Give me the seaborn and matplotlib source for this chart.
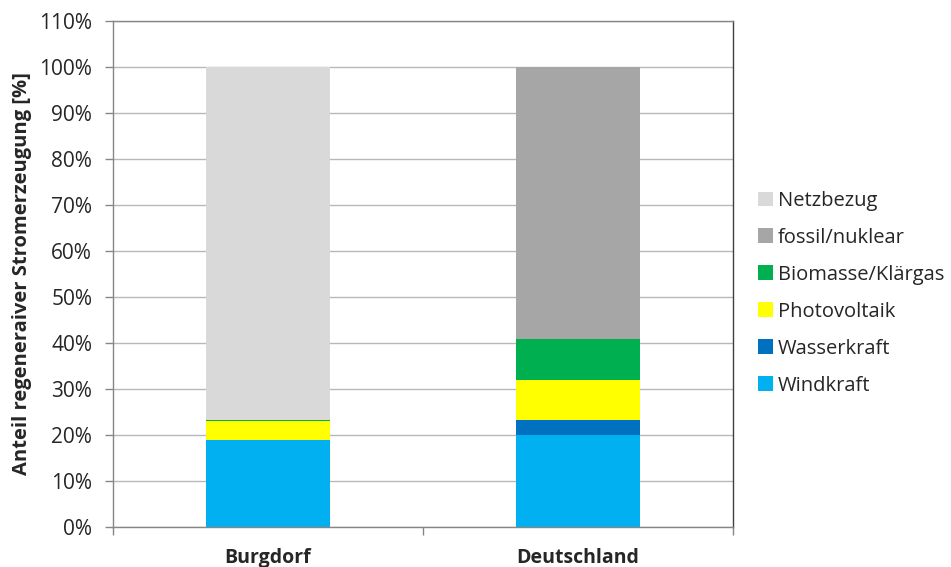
import matplotlib
matplotlib.use("Agg")
import matplotlib.pyplot as plt
import seaborn as sns
import numpy as np
import pandas as pd
from matplotlib.patches import Patch
from matplotlib.ticker import FixedLocator

categories = ["Burgdorf", "Deutschland"]
series = ["Windkraft", "Wasserkraft", "Photovoltaik", "Biomasse/Klärgas", "fossil/nuklear", "Netzbezug"]
windkraft = [19.0, 20.0]
wasserkraft = [0.0, 3.3]
photovoltaik = [4.0, 8.7]
biomasse = [0.3, 8.9]
fossil = [0.0, 59.1]
netzbezug = [76.7, 0.0]
colors = ["#00B0F0", "#0070C0", "#FFFF00", "#00B050", "#A6A6A6", "#D9D9D9"]
yticks = list(range(0, 111, 10))

sns.set_theme(style="white")
plt.rcParams["font.family"] = ["Open Sans", "DejaVu Sans"]

values = [windkraft, wasserkraft, photovoltaik, biomasse, fossil, netzbezug]
cum = np.cumsum(np.array(values), axis=0)

fig = plt.figure(figsize=(9.51, 5.67), dpi=100)
ax = fig.add_axes([113/951, 40/567, 620/951, 506/567])

for i in range(len(series) - 1, -1, -1):
    df = pd.DataFrame({"cat": categories, "val": cum[i]})
    sns.barplot(data=df, x="cat", y="val", color=colors[i], width=0.4,
                saturation=1, ax=ax, zorder=2, linewidth=0)

ax.set_xlim(-0.5, 1.5)
ax.set_ylim(0, 110)
ax.set_yticks(yticks)
ax.set_yticklabels([f"{t}%" for t in yticks], fontsize=15, color="#262626")
ax.yaxis.grid(True, color="#B8B8B8", linewidth=1, zorder=0)
ax.set_axisbelow(True)
ax.tick_params(axis="y", length=6, width=1, color="#868686", direction="out", left=True, pad=9)

ax.set_xticks([0, 1])
ax.set_xticklabels(categories, fontsize=14, fontweight="bold", color="#262626")
ax.tick_params(axis="x", which="major", length=0, pad=15)
ax.xaxis.set_minor_locator(FixedLocator([-0.5, 0.5, 1.5]))
ax.tick_params(axis="x", which="minor", length=6, width=1, color="#868686", direction="out", bottom=True)
ax.set_xlabel("")
ax.set_ylabel("Anteil regeneraiver Stromerzeugung [%]", fontsize=14.5, fontweight="bold",
              color="#262626", labelpad=5)

for s in ["left", "bottom", "top"]:
    ax.spines[s].set_visible(True)
    ax.spines[s].set_color("#868686")
    ax.spines[s].set_linewidth(1)
ax.spines["right"].set_visible(True)
ax.spines["right"].set_color("#404040")
ax.spines["right"].set_linewidth(1)

handles = [Patch(facecolor=colors[i], edgecolor="none", label=series[i]) for i in range(len(series) - 1, -1, -1)]
leg = ax.legend(handles=handles, loc="center left", bbox_to_anchor=(1.027, 0.462), frameon=False,
                fontsize=14.5, handlelength=0.75, handleheight=0.75, handletextpad=0.25,
                labelspacing=0.84, borderaxespad=0)
for t in leg.get_texts():
    t.set_color("#262626")

fig.savefig("out.png", dpi=100)
